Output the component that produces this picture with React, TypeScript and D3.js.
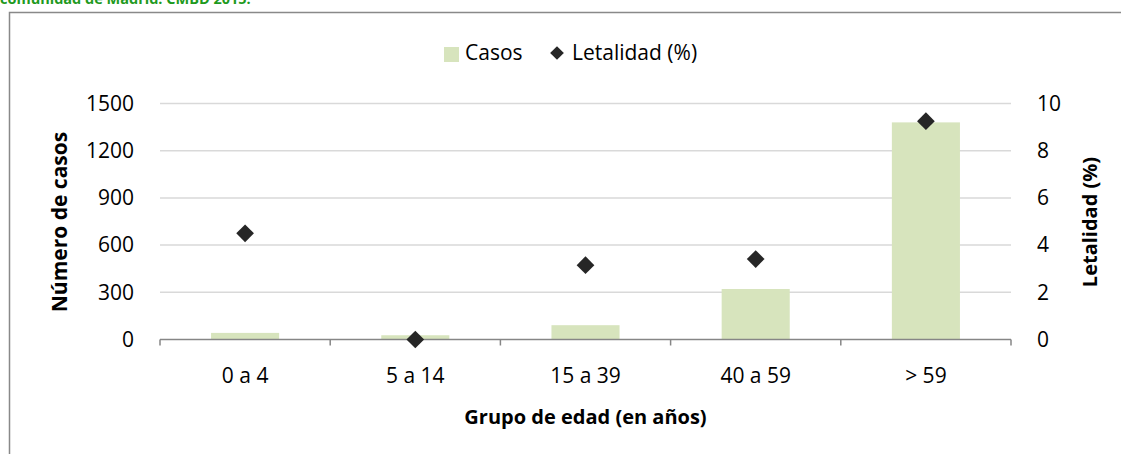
import React from "react";
import * as d3 from "d3";

const categories = ["0 a 4", "5 a 14", "15 a 39", "40 a 59", "> 59"];
const casos = [42, 27, 91, 321, 1380];
const letalidad = [4.5, 0, 3.15, 3.41, 9.25];
const leftTicks = [0, 300, 600, 900, 1200, 1500];
const rightTicks = [0, 2, 4, 6, 8, 10];
const titleText = "comunidad de Madrid. CMBD 2015.";
const seriesNames = ["Casos", "Letalidad (%)"];
const xTitle = "Grupo de edad (en años)";
const yLeftTitle = "Número de casos";
const yRightTitle = "Letalidad (%)";

const W = 1121;
const H = 454;
const FONT = "'Open Sans', sans-serif";
const BAR = "#d7e4bd";
const MARK = "#262626";

export default function App() {
  const left = 160, right = 1011, top = 103.5, bottom = 339.5;
  const x = d3.scaleBand<string>().domain(categories).range([left, right]).paddingInner(0.6).paddingOuter(0.3);
  const step = x.step();
  const yL = d3.scaleLinear().domain([0, 1500]).range([bottom, top]);
  const yR = d3.scaleLinear().domain([0, 10]).range([bottom, top]);
  const diamond = d3.symbol().type(d3.symbolDiamond2 ?? d3.symbolSquare).size(200)();
  const diamondSmall = d3.symbol().type(d3.symbolDiamond2 ?? d3.symbolSquare).size(120)();
  const catTicks = d3.range(categories.length + 1).map((i) => left + i * step);

  return (
    <div style={{ position: "absolute", left: 0, top: 0 }}>
      <svg width={W} height={H} style={{ display: "block", background: "#fff" }}>
        <text x={0} y={4} fontFamily={FONT} fontWeight="bold" fontSize={14.5} fill="#1e9a1e">{titleText}</text>
        <path d={`M9.5,${H + 5}V12.5H${W + 5}`} fill="none" stroke="#898989" strokeWidth={1.5} />
        {/* gridlines */}
        {leftTicks.slice(1).map((t) => (
          <line key={t} x1={left} x2={right} y1={yL(t)} y2={yL(t)} stroke="#d9d9d9" strokeWidth={1.5} />
        ))}
        {/* bars */}
        {categories.map((c, i) => (
          <rect key={c} x={x(c)} width={x.bandwidth()} y={yL(casos[i])} height={bottom - yL(casos[i])} fill={BAR} />
        ))}
        {/* baseline + ticks */}
        <line x1={left} x2={right} y1={bottom} y2={bottom} stroke="#868686" strokeWidth={1.5} />
        {catTicks.map((t, i) => (
          <line key={i} x1={t} x2={t} y1={bottom} y2={bottom + 6} stroke="#868686" strokeWidth={1.5} />
        ))}
        {/* diamonds */}
        {categories.map((c, i) => (
          <path key={c} d={diamond!} transform={`translate(${x(c)! + x.bandwidth() / 2},${yR(letalidad[i])})`} fill={MARK} />
        ))}
        {/* left ticks */}
        {leftTicks.map((t) => (
          <text key={t} x={134} y={yL(t)} dy="0.35em" textAnchor="end" fontFamily={FONT} fontSize={21} fill="#000">{t}</text>
        ))}
        {rightTicks.map((t) => (
          <text key={t} x={1037} y={yR(t)} dy="0.35em" textAnchor="start" fontFamily={FONT} fontSize={21} fill="#000">{t}</text>
        ))}
        {categories.map((c) => (
          <text key={c} x={x(c)! + x.bandwidth() / 2} y={383} textAnchor="middle" fontFamily={FONT} fontSize={21} fill="#000">{c}</text>
        ))}
        <text x={(left + right) / 2} y={424} textAnchor="middle" fontFamily={FONT} fontWeight="bold" fontSize={20} fill="#000">{xTitle}</text>
        <text transform={`translate(67,222) rotate(-90)`} textAnchor="middle" fontFamily={FONT} fontWeight="bold" fontSize={21} fill="#000">{yLeftTitle}</text>
        <text transform={`translate(1097,222) rotate(-90)`} textAnchor="middle" fontFamily={FONT} fontWeight="bold" fontSize={20} fill="#000">{yRightTitle}</text>
        {/* legend */}
        <rect x={444} y={47} width={15} height={15} fill={BAR} />
        <text x={465} y={60} fontFamily={FONT} fontSize={21} fill="#000">{seriesNames[0]}</text>
        <path d={diamondSmall!} transform="translate(557,53)" fill={MARK} />
        <text x={572} y={60} fontFamily={FONT} fontSize={21} fill="#000">{seriesNames[1]}</text>
      </svg>
    </div>
  );
}
